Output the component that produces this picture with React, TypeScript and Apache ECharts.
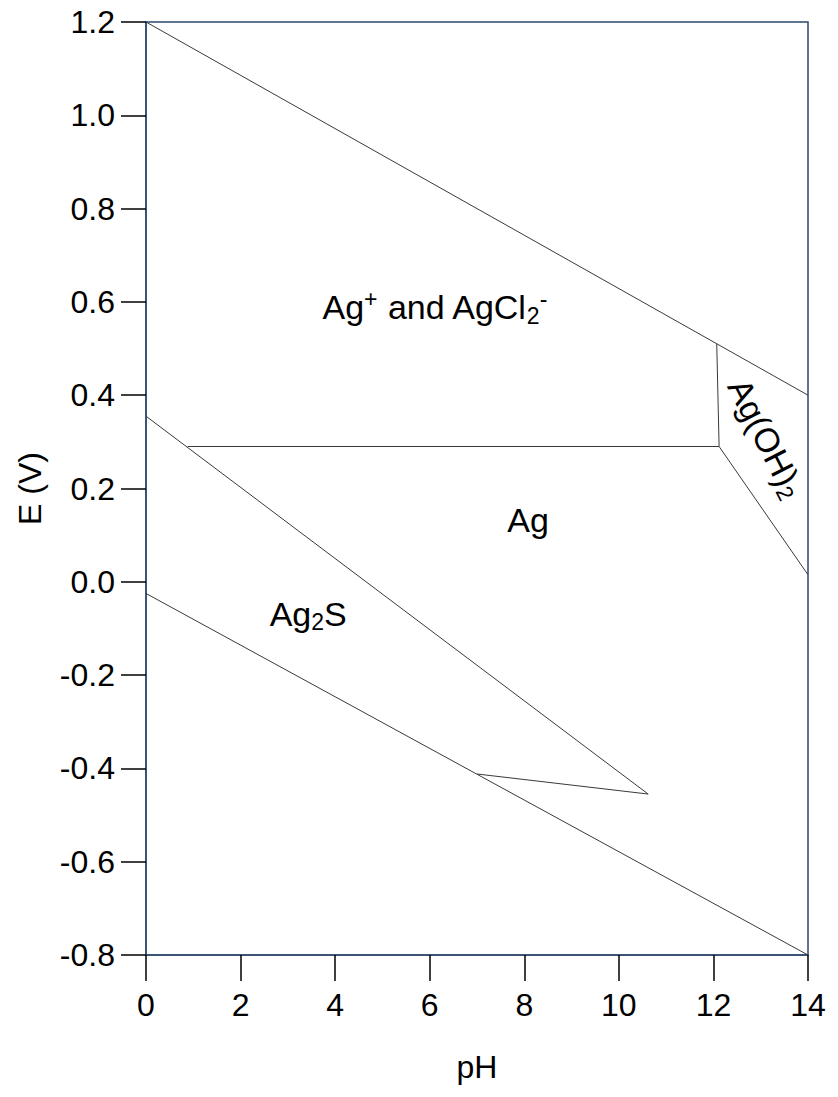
import React, { useEffect, useRef } from "react";
import * as echarts from "echarts";

const xTicks = [0, 2, 4, 6, 8, 10, 12, 14];
const yTicks = [-0.8, -0.6, -0.4, -0.2, 0.0, 0.2, 0.4, 0.6, 0.8, 1.0, 1.2];

// boundary lines (pH, E)
const topLine = [[0, 1.2], [14, 0.4]];
const agOhLeft = [[12.07, 0.51], [12.12, 0.29]];
const agPlusAgLine = [[0.88, 0.29], [12.12, 0.29]];
const agOhLower = [[12.12, 0.29], [14, 0.015]];
const ag2sUpper = [[0, 0.355], [10.62, -0.455]];
const ag2sTip = [[7.0, -0.412], [10.62, -0.455]];
const bottomLine = [[0, -0.025], [14, -0.8]];

// region labels (pH, E, text)
const regionLabels = [
  { pos: [6.11, 0.589], text: "{a|Ag}{sup|+}{a| and AgCl}{sub|2}{sup|-}", rotate: 0 },
  { pos: [8.08, 0.133], text: "{a|Ag}", rotate: 0 },
  { pos: [3.43, -0.069], text: "{a|Ag}{sub|2}{a|S}", rotate: 0 },
  { pos: [13.12, 0.308], text: "{a|Ag(OH)}{sub|2}", rotate: -63 },
];

const FRAME = "#2c4a6c";
const FONT = "Liberation Sans, Arial, sans-serif";

export default function App() {
  const ref = useRef<HTMLDivElement>(null);
  useEffect(() => {
    if (!ref.current) return;
    const chart = echarts.init(ref.current, undefined, { renderer: "svg" });
    const lineSeries = [topLine, agOhLeft, agPlusAgLine, agOhLower, ag2sUpper, ag2sTip, bottomLine].map((d) => ({
      type: "line",
      data: d,
      symbol: "none",
      lineStyle: { color: "#3a3a3a", width: 1 },
      silent: true,
    }));
    const base = { fontFamily: FONT, color: "#000", textBorderWidth: 0, lineHeight: 40 };
    const rich = {
      a: { ...base, fontSize: 34, verticalAlign: "middle" },
      sup: { ...base, fontSize: 23, verticalAlign: "top" },
      sub: { ...base, fontSize: 23, verticalAlign: "bottom" },
    };
    const labelSeries = regionLabels.map((l) => ({
      type: "scatter",
      data: [l.pos],
      symbolSize: 0,
      silent: true,
      itemStyle: { color: "#000", opacity: 1 },
      label: {
        show: true,
        position: "inside",
        rotate: l.rotate,
        color: "#000",
        textBorderWidth: 0,
        formatter: () => l.text,
        rich,
      },
    }));
    chart.setOption({
      animation: false,
      grid: {
        left: 146,
        right: 30,
        top: 22,
        bottom: 142,
        show: true,
        borderColor: FRAME,
        borderWidth: 1.5,
      },
      xAxis: {
        type: "value",
        min: 0,
        max: 14,
        interval: 2,
        name: "pH",
        nameLocation: "middle",
        nameGap: 96,
        nameTextStyle: { fontSize: 32, fontFamily: FONT, color: "#000" },
        axisLine: { show: true, onZero: false, lineStyle: { color: FRAME, width: 1.5 } },
        axisTick: { show: true, length: 26, lineStyle: { color: "#000", width: 1.5 } },
        axisLabel: {
          margin: 34,
          fontSize: 32,
          fontFamily: FONT,
          color: "#000",
          formatter: (v: number) => (xTicks.includes(v) ? String(v) : ""),
        },
        splitLine: { show: false },
      },
      yAxis: {
        type: "value",
        min: -0.8,
        max: 1.2,
        interval: 0.2,
        name: "E (V)",
        nameLocation: "middle",
        nameGap: 100,
        nameRotate: 90,
        nameTextStyle: { fontSize: 32, fontFamily: FONT, color: "#000" },
        axisLine: { show: true, onZero: false, lineStyle: { color: FRAME, width: 1.5 } },
        axisTick: { show: true, length: 25, lineStyle: { color: "#000", width: 1.5 } },
        axisLabel: {
          margin: 31,
          fontSize: 32,
          fontFamily: FONT,
          color: "#000",
          formatter: (v: number) => {
            const t = yTicks.find((y) => Math.abs(y - v) < 1e-6);
            return t === undefined ? "" : t.toFixed(1);
          },
        },
        splitLine: { show: false },
      },
      series: [...lineSeries, ...labelSeries],
    });
    return () => chart.dispose();
  }, []);
  return <div ref={ref} style={{ width: 838, height: 1097, position: "absolute", left: 0, top: 0 }} />;
}
